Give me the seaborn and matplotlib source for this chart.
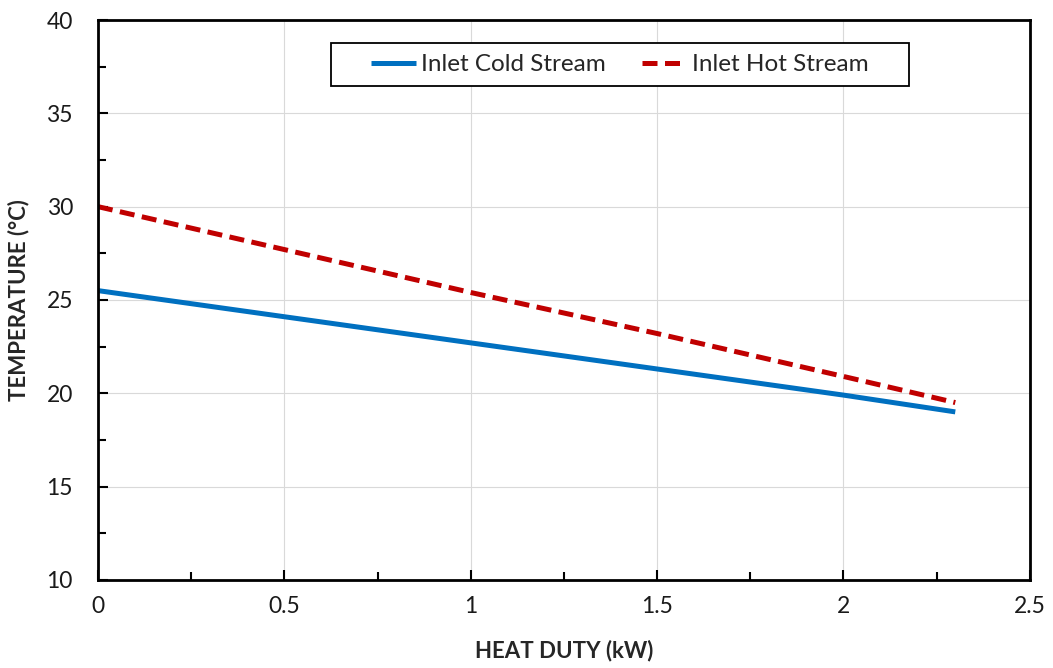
import matplotlib
matplotlib.use("Agg")
import matplotlib.pyplot as plt
from matplotlib.ticker import MultipleLocator
from matplotlib.patches import Rectangle
import seaborn as sns
import pandas as pd

# Heat duty (kW) and stream temperatures (°C)
heat_duty = [0.0, 0.5, 1.0, 1.5, 2.0, 2.3]
cold_temp = [25.5, 24.1, 22.7, 21.3, 19.9, 19.0]
hot_temp = [30.0, 27.7, 25.4, 23.2, 20.9, 19.5]
series_names = ["Inlet Cold Stream", "Inlet Hot Stream"]
x_tick_labels = ["0", "0.5", "1", "1.5", "2", "2.5"]

df = pd.DataFrame({
    "duty": heat_duty * 2,
    "temp": cold_temp + hot_temp,
    "stream": [series_names[0]] * len(heat_duty) + [series_names[1]] * len(heat_duty),
})

sns.set_theme(style="white")
plt.rcParams["font.family"] = ["Lato", "DejaVu Sans"]

fig = plt.figure(figsize=(10.53, 6.68), dpi=100)
ax = fig.add_axes([0.093, 0.132, 0.885, 0.838])

palette = {series_names[0]: "#0070C0", series_names[1]: "#C00000"}
dashes = {series_names[0]: "", series_names[1]: (3.0, 1.5)}
sns.lineplot(data=df, x="duty", y="temp", hue="stream", style="stream",
             palette=palette, dashes=dashes, linewidth=3.6, ax=ax, legend=True)
for ln in ax.get_lines():
    ln.set_solid_capstyle("butt")
    ln.set_dash_capstyle("butt")

ax.set_xlim(0, 2.5)
ax.set_ylim(10, 40)
ax.xaxis.set_major_locator(MultipleLocator(0.5))
ax.xaxis.set_minor_locator(MultipleLocator(0.25))
ax.yaxis.set_major_locator(MultipleLocator(5))
ax.yaxis.set_minor_locator(MultipleLocator(2.5))
ax.set_xticks([0, 0.5, 1, 1.5, 2, 2.5])
ax.set_xticklabels(x_tick_labels)
ax.grid(True, which="major", color="#D9D9D9", linewidth=0.8)
ax.set_axisbelow(True)

for s in ax.spines.values():
    s.set_color("black")
    s.set_linewidth(2.0)

ax.tick_params(which="both", direction="in", color="black", width=1.5,
               bottom=True, left=True, top=False, right=False)
ax.tick_params(which="major", length=7, labelsize=16.5, pad=12, labelcolor="#1a1a1a")
ax.tick_params(which="minor", length=6)
ax.tick_params(axis="y", which="major", pad=18)

ax.set_xlabel("HEAT DUTY (kW)", fontsize=16, fontweight="bold", labelpad=16)
ax.set_ylabel("TEMPERATURE (°C)", fontsize=16, fontweight="bold", labelpad=12)

handles, labels = ax.get_legend_handles_labels()
leg = ax.legend(handles, labels, loc="upper center", bbox_to_anchor=(0.56, 0.939),
                borderaxespad=0, ncol=2, fontsize=17.5, frameon=False,
                handlelength=1.85, handletextpad=0.2, columnspacing=1.5,
                borderpad=0.0)
leg.set_zorder(6)

# Boxed frame around the legend with wider side margins
fig.canvas.draw()
bb = leg.get_window_extent().transformed(fig.transFigure.inverted())
padx, pady = 40 / 1053, 11 / 668
frame = Rectangle((bb.x0 - padx, bb.y0 - pady),
                  bb.width + 2 * padx, bb.height + 2 * pady,
                  transform=fig.transFigure, facecolor="white",
                  edgecolor="black", linewidth=1.3, zorder=5, clip_on=False)
ax.add_patch(frame)

fig.savefig("out.png", dpi=100, facecolor="white")
